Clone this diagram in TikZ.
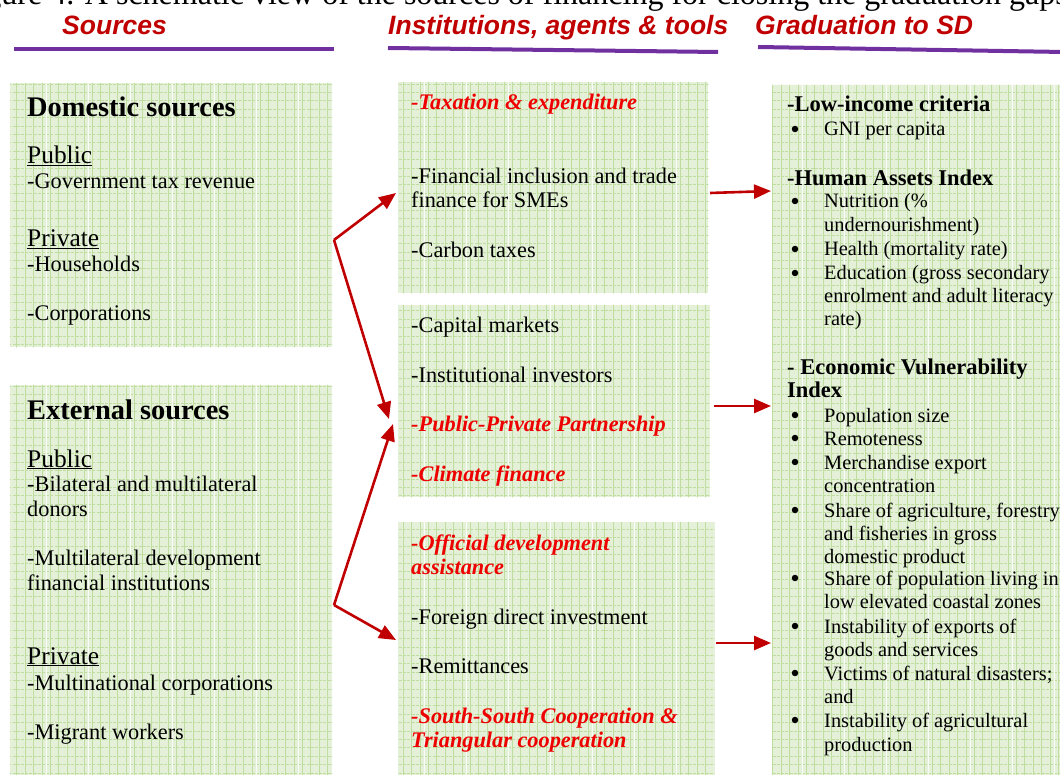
\documentclass[tikz,border=0pt]{standalone}
\usepackage{fontspec}
\setmainfont{Liberation Serif}
\newfontfamily\headfont{Liberation Sans}
\usetikzlibrary{arrows.meta}

\definecolor{gfill}{RGB}{228,240,216}
\definecolor{gline}{RGB}{190,221,158}
\definecolor{darkred}{RGB}{192,0,0}
\definecolor{brightred}{RGB}{238,0,0}
\definecolor{barpurple}{RGB}{112,48,160}

\tikzset{
  txt/.style={anchor=base west, inner sep=0pt, font=\fontsize{22.3}{24}\selectfont},
  rtxt/.style={anchor=base west, inner sep=0pt, font=\fontsize{20.4}{23}\selectfont},
  dot/.style={circle, fill=black, inner sep=0pt, minimum size=6.5pt},
  hot/.style={anchor=base west, inner sep=0pt, text=brightred, font=\fontsize{22.3}{24}\selectfont\bfseries\itshape},
  bighead/.style={anchor=base west, inner sep=0pt, font=\fontsize{28.4}{30}\selectfont\bfseries},
  subhead/.style={anchor=base west, inner sep=0pt, font=\fontsize{25.4}{28}\selectfont},
  rhead/.style={anchor=base west, inner sep=0pt, font=\fontsize{22.5}{24}\selectfont\bfseries},
  colhead/.style={anchor=base west, inner sep=0pt, text=darkred, font=\headfont\fontsize{26.5}{28}\selectfont\bfseries\itshape},
  panel/.style={fill=gfill, draw=none, inner sep=0pt, anchor=north west},
  link/.style={draw=darkred, line width=2.6pt, -{Triangle[length=17pt,width=14pt]}},
  bar/.style={draw=barpurple, line width=4pt},
}

% bulleted line in the right-hand panel
\newcommand\bitem[3]{%
  \node[dot] (#1b) at (795,#2-7) {};
  \node[rtxt] (#1) at (824,#2) {#3};}
\newcommand\bcont[3]{\node[rtxt] (#1) at (824,#2) {#3};}

\begin{document}
\begin{tikzpicture}[x=1pt, y=-1pt]
\useasboundingbox (0,0) rectangle (1060,775);
\begin{scope}
\clip (0,0) rectangle (1060,775);

% caption line above the figure
\node[anchor=base east, inner sep=0pt, font=\fontsize{32}{34}\selectfont] (caption) at (1068,5)
  {Figure 4. A schematic view of the sources of financing for closing the graduation gaps};

% column headings and bars
\node[colhead] (h1) at (62,35) {Sources};
\node[colhead] (h2) at (388,35) {Institutions, agents \& tools};
\node[colhead] (h3) at (755,35) {Graduation to SD};
\coordinate (b1a) at (14,49);  \coordinate (b1b) at (334,49);
\coordinate (b2a) at (388,48); \coordinate (b2b) at (718,52);
\coordinate (b3a) at (758,47); \coordinate (b3b) at (1064,52);
\draw[bar] (b1a) -- (b1b);
\draw[bar] (b2a) -- (b2b);
\draw[bar] (b3a) -- (b3b);

% panels
\node[panel, minimum width=322pt, minimum height=264pt] (dom) at (10,83) {};
\node[panel, minimum width=322pt, minimum height=400pt] (ext) at (10,385) {};
\node[panel, minimum width=310pt, minimum height=211pt] (m1) at (398,82) {};
\node[panel, minimum width=312pt, minimum height=192pt] (m2) at (398,305) {};
\node[panel, minimum width=316pt, minimum height=260pt] (m3) at (398,522) {};
\node[panel, minimum width=300pt, minimum height=700pt] (rt) at (772,85) {};

% squared paper texture on the panels
\begin{scope}
  \clip (dom.south west) rectangle (dom.north east)
        (ext.south west) rectangle (ext.north east)
        (m1.south west) rectangle (m1.north east)
        (m2.south west) rectangle (m2.north east)
        (m3.south west) rectangle (m3.north east)
        (rt.south west) rectangle (rt.north east);
  \foreach \gy in {0,8.4,...,780}
    \draw[gline, line width=0.6pt, dash pattern=on 3pt off 1.2pt] (0,\gy) -- (1060,\gy);
  \foreach \gx in {0,8.4,...,1060}
    \draw[gline, line width=0.7pt] (\gx,0) -- (\gx,775);
  \foreach \gx in {4.2,46.2,...,1060}
    \draw[white, line width=0.9pt, opacity=0.8] (\gx,0) -- (\gx,775);
\end{scope}

% domestic sources
\node[bighead] (dh) at (27,117) {Domestic sources};
\node[subhead] (dpu) at (27,164) {\underline{Public}};
\node[txt] (d1) at (27,189) {-Government tax revenue};
\node[subhead] (dpr) at (27,247) {\underline{Private}};
\node[txt] (d2) at (27,272) {-Households};
\node[txt] (d3) at (27,321) {-Corporations};

% external sources
\node[bighead] (eh) at (27,419) {External sources};
\node[subhead] (epu) at (27,467) {\underline{Public}};
\node[txt] (e1) at (27,491) {-Bilateral and multilateral};
\node[txt] (e1b) at (27,516) {donors};
\node[txt] (e2) at (27,565) {-Multilateral development};
\node[txt] (e2b) at (27,590) {financial institutions};
\node[subhead] (epr) at (27,664) {\underline{Private}};
\node[txt] (e3) at (27,690) {-Multinational corporations};
\node[txt] (e4) at (27,739) {-Migrant workers};

% institutions, agents and tools
\node[hot] (i1) at (411,110) {-Taxation \& expenditure};
\node[txt] (i2) at (411,184) {-Financial inclusion and trade};
\node[txt] (i2b) at (411,208) {finance for SMEs};
\node[txt] (i3) at (411,258) {-Carbon taxes};
\node[txt] (i4) at (411,333) {-Capital markets};
\node[txt] (i5) at (411,382) {-Institutional investors};
\node[hot] (i6) at (411,431) {-Public-Private Partnership};
\node[hot] (i7) at (411,481) {-Climate finance};
\node[hot] (i8) at (411,550) {-Official development};
\node[hot] (i8b) at (411,574) {assistance};
\node[txt] (i9) at (411,624) {-Foreign direct investment};
\node[txt] (i10) at (411,673) {-Remittances};
\node[hot] (i11) at (411,723) {-South-South Cooperation \&};
\node[hot] (i11b) at (411,747) {Triangular cooperation};

% graduation criteria
\node[rhead] (g1) at (787,112) {-Low-income criteria};
\bitem{g1a}{136}{GNI per capita}
\node[rhead] (g2) at (787,186) {-Human Assets Index};
\bitem{g2a}{208}{Nutrition (\%}
\bcont{g2ab}{232}{undernourishment)}
\bitem{g2b}{256}{Health (mortality rate)}
\bitem{g2c}{280}{Education (gross secondary}
\bcont{g2cb}{303}{enrolment and adult literacy}
\bcont{g2cc}{326}{rate)}
\node[rhead] (g3) at (787,374) {- Economic Vulnerability};
\node[rhead] (g3b) at (787,398) {Index};
\bitem{g3a}{422}{Population size}
\bitem{g3b}{445}{Remoteness}
\bitem{g3c}{469}{Merchandise export}
\bcont{g3cb}{492}{concentration}
\bitem{g3d}{517}{Share of agriculture, forestry}
\bcont{g3db}{540}{and fisheries in gross}
\bcont{g3dc}{563}{domestic product}
\bitem{g3e}{585}{Share of population living in}
\bcont{g3eb}{608}{low elevated coastal zones}
\bitem{g3f}{633}{Instability of exports of}
\bcont{g3fb}{656}{goods and services}
\bitem{g3g}{680}{Victims of natural disasters;}
\bcont{g3gb}{703}{and}
\bitem{g3h}{727}{Instability of agricultural}
\bcont{g3hb}{751}{production}

% flows between the columns
\coordinate (f1) at (334,240);
\coordinate (f2) at (334,605);
\coordinate (m1in) at (396,193);
\coordinate (m2inA) at (389,419);
\coordinate (m2inB) at (393,424);
\coordinate (m3in) at (396,640);
\coordinate (m1out) at (710,193);
\coordinate (m2out) at (714,406);
\coordinate (m3out) at (716,643);
\coordinate (rtA) at (771,191);
\coordinate (rtB) at (771,406);
\coordinate (rtC) at (771,643);
\draw[link] (f1) -- (m1in);
\draw[link] (f1) -- (m2inA);
\draw[link] (f2) -- (m2inB);
\draw[link] (f2) -- (m3in);
\draw[link] (m1out) -- (rtA);
\draw[link] (m2out) -- (rtB);
\draw[link] (m3out) -- (rtC);
\end{scope}
\end{tikzpicture}
\end{document}
